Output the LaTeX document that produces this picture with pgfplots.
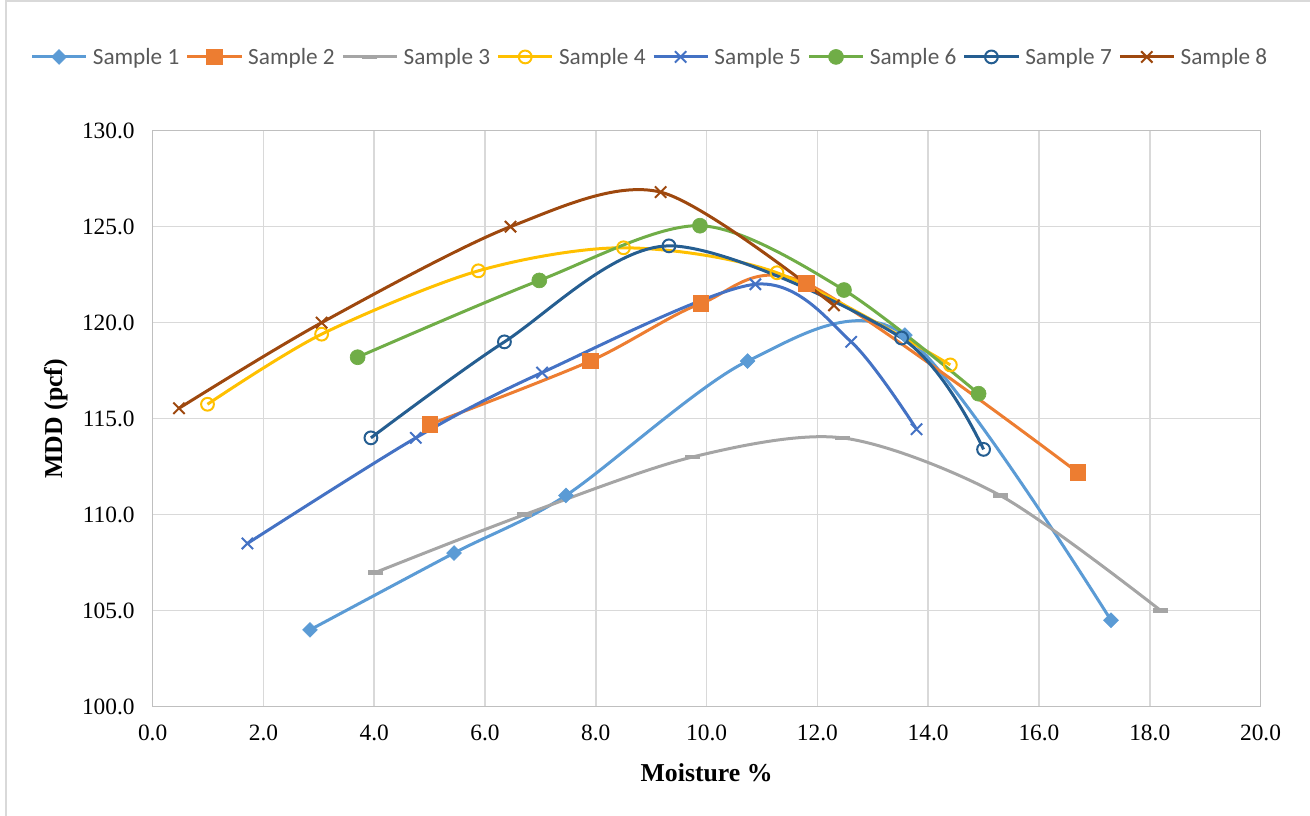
\documentclass[border=0pt]{standalone}
\usepackage{pgfplots}
\pgfplotsset{compat=1.18}
\usepackage{fontspec}
\setmainfont{Liberation Serif}
\newfontfamily\calibri{Carlito}
\definecolor{c1}{HTML}{5B9BD5}
\definecolor{c2}{HTML}{ED7D31}
\definecolor{c3}{HTML}{A5A5A5}
\definecolor{c4}{HTML}{FFC000}
\definecolor{c5}{HTML}{4472C4}
\definecolor{c6}{HTML}{70AD47}
\definecolor{c7}{HTML}{255E91}
\definecolor{c8}{HTML}{9E480E}
\definecolor{gridc}{HTML}{D9D9D9}
\definecolor{axisc}{HTML}{BFBFBF}
\definecolor{legtext}{HTML}{595959}
\definecolor{framec}{HTML}{D9D9D9}
\begin{document}
\begin{tikzpicture}
\path[use as bounding box] (0,0) rectangle (982.5bp,612bp);
\draw[color=framec, line width=1bp] (4.5bp,0) -- (4.5bp,611.25bp) -- (982.5bp,611.25bp);
\begin{axis}[
  at={(114.5bp,82bp)}, anchor=south west, scale only axis,
  width=830.9bp, height=432bp,
  xmin=0, xmax=20, ymin=100, ymax=130,
  xtick={0,2,...,20}, ytick={100,105,...,130},
  grid=major, grid style={color=gridc, line width=1.2bp},
  axis line style={color=axisc, line width=1bp},
  tick style={draw=none},
  tick label style={font=\fontsize{17.6}{20}\selectfont},
  /pgf/number format/fixed, /pgf/number format/fixed zerofill,
  /pgf/number format/precision=1, /pgf/number format/assume math mode=true,
  xticklabel style={yshift=-10bp}, yticklabel style={xshift=-10bp},
  xlabel={Moisture \%}, ylabel={MDD (pcf)},
  label style={font=\fontsize{19.4}{22}\selectfont\bfseries},
  xlabel style={at={(axis description cs:0.5,-0.1148)}, anchor=center},
  ylabel style={at={(axis description cs:-0.0873,0.5)}, anchor=center},
  legend columns=8,
  legend style={at={(axis description cs:-0.1105,1.128)}, anchor=west,
    draw=none, fill=none, inner sep=0pt,
    font=\calibri\fontsize{17.5}{20}\selectfont\color{legtext},
    nodes={inner sep=0.5bp},
    /tikz/every odd column/.append style={column sep=3.5bp},
    /tikz/every even column/.append style={column sep=4.4bp}},
  legend image code/.code={\draw[mark repeat=2,mark phase=2,#1] plot coordinates {(0bp,0bp) (20.25bp,0bp) (40.5bp,0bp)};},
  every axis plot/.append style={line width=2.25bp, smooth},
]
\addplot[color=c1, mark=square*, mark size=3.9bp, mark options={rotate=45, fill=c1, line width=0.5bp}]
  coordinates {(2.84,104.0) (5.44,108.0) (7.46,111.0) (10.74,118.0) (13.58,119.35) (17.3,104.5)};
\addlegendentry{Sample 1}
\addplot[color=c2, mark=square*, mark size=5.8bp, mark options={fill=c2, line width=0.5bp}]
  coordinates {(5.0,114.7) (7.9,118.0) (9.9,121.0) (11.8,122.05) (16.7,112.2)};
\addlegendentry{Sample 2}
\addplot[color=c3, mark=-, mark size=5.6bp, mark options={line width=3.5bp}]
  coordinates {(4.03,107.0) (6.71,110.0) (9.74,113.0) (12.45,114.0) (15.3,111.0) (18.2,105.0)};
\addlegendentry{Sample 3}
\addplot[color=c4, mark=o, mark size=4.8bp, mark options={line width=1.5bp}]
  coordinates {(0.99,115.75) (3.05,119.4) (5.88,122.7) (8.5,123.9) (11.27,122.6) (14.4,117.8)};
\addlegendentry{Sample 4}
\addplot[color=c5, mark=x, mark size=6bp, mark options={line width=1.5bp}]
  coordinates {(1.71,108.5) (4.75,114.0) (7.03,117.4) (10.88,122.0) (12.61,119.0) (13.79,114.45)};
\addlegendentry{Sample 5}
\addplot[color=c6, mark=*, mark size=5.6bp, mark options={fill=c6, line width=0.5bp}]
  coordinates {(3.70,118.2) (6.98,122.2) (9.88,125.05) (12.48,121.7) (14.91,116.3)};
\addlegendentry{Sample 6}
\addplot[color=c7, mark=o, mark size=4.8bp, mark options={line width=1.5bp}]
  coordinates {(3.94,114.0) (6.35,119.0) (9.32,124.0) (13.52,119.2) (15.0,113.4)};
\addlegendentry{Sample 7}
\addplot[color=c8, mark=x, mark size=6bp, mark options={line width=1.5bp}]
  coordinates {(0.475,115.54) (3.05,120.0) (6.46,125.0) (9.17,126.8) (12.3,120.9)};
\addlegendentry{Sample 8}
\end{axis}
\end{tikzpicture}
\end{document}
